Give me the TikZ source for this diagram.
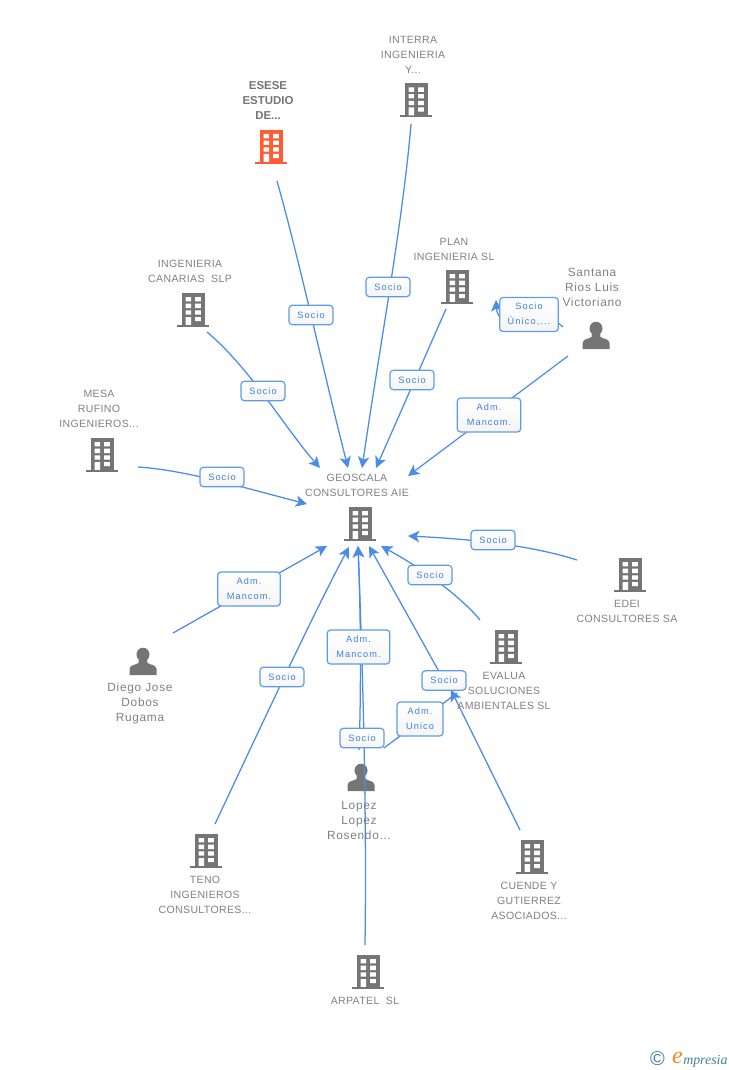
\documentclass[tikz,border=0pt]{standalone}
\usepackage{fontspec}
\usetikzlibrary{arrows.meta,backgrounds}
\setmainfont{Liberation Sans}
\newfontfamily\graylab[LetterSpace=3.5]{Liberation Sans}
\newfontfamily\perslab[LetterSpace=6]{Liberation Sans}
\newfontfamily\boxlab[LetterSpace=12]{Liberation Sans}
\newfontfamily\logoserif{Liberation Serif}
\definecolor{icongray}{HTML}{757575}
\definecolor{txtgray}{HTML}{808080}
\definecolor{hot}{HTML}{FF5C33}
\definecolor{linkblue}{HTML}{4A8CE8}
\definecolor{boxblue}{HTML}{5E9BEA}
\definecolor{boxtxt}{HTML}{3D80E0}
\definecolor{logoteal}{HTML}{3F7F96}
\definecolor{logoor}{HTML}{F08A24}
\tikzset{
  x=0.75pt,y=-0.75pt,
  plainconn/.style={draw=linkblue,line width=0.95pt},
  conn/.style={plainconn,-{Stealth[length=8.5pt,width=8.5pt,inset=2.2pt]}},
  lbl/.style={draw=boxblue,line width=0.9pt,rounded corners=2.5pt,top color=white,bottom color=white!96!black,
    text=boxtxt,font=\boxlab\fontsize{6.9pt}{11.25pt}\selectfont,align=center,inner sep=0pt,anchor=center},
  gt/.style={text=txtgray,font=\graylab\fontsize{7.9pt}{11.25pt}\selectfont,align=center,inner sep=0pt},
  pt/.style={text=txtgray,font=\perslab\fontsize{8.9pt}{11.25pt}\selectfont,align=center,inner sep=0pt},
  iconspot/.style={inner sep=0pt,minimum width=24pt,minimum height=25pt},
  pics/bldg/.style={code={
    \fill[#1] (-11.5,-17) rectangle (11.5,16);
    \fill[#1] (-16,14.8) rectangle (16,17);
    \fill[white] (-7.5,-13) rectangle (-2,-8.7) (2.2,-13) rectangle (7.8,-8.7)
      (-7.5,-6.3) rectangle (-2,-2) (2.2,-6.3) rectangle (7.8,-2)
      (-7.5,0.3) rectangle (-2,4.7) (2.2,0.3) rectangle (7.8,4.7)
      (-7.5,7) rectangle (-2,14.8) (2.2,7) rectangle (7.8,11.2);
  }},
  pics/pers/.style={code={
    \fill[icongray] (0,-7) ellipse [x radius=6.5,y radius=6.8];
    \fill[icongray] (-13.5,13.5) -- (-13.5,7.5) .. controls (-13,3) and (-7,3.5) .. (-4.5,1.5) -- (-4,-3) -- (4,-3) -- (4.5,1.5)
      .. controls (7,3.5) and (13,3) .. (13.5,7.5) -- (13.5,13.5) -- cycle;
  }}
}
\newcommand{\bicon}[4][icongray]{\node[iconspot] (#2) at (#3,#4) {}; \pic at (#3,#4) {bldg=#1};}
\newcommand{\picon}[3]{\node[iconspot] (#1) at (#2,#3) {}; \pic at (#1) {pers};}
\begin{document}
\begin{tikzpicture}
\useasboundingbox (0,0) rectangle (728,1070);

% free ends of the connectors
\coordinate (s1) at (277,181);   \coordinate (t1) at (348,468);
\coordinate (s2) at (411,124);   \coordinate (t2) at (362,468);
\coordinate (s3) at (446,309);   \coordinate (t3) at (376,468);
\coordinate (s4) at (568,356);   \coordinate (t4) at (408,476);
\coordinate (s5) at (563,327);   \coordinate (t5) at (496,300);
\coordinate (s6) at (207,332);   \coordinate (t6) at (320,468);
\coordinate (s7) at (138,467);   \coordinate (t7) at (307,504);
\coordinate (s8) at (577,560);   \coordinate (t8) at (408,536);
\coordinate (s9) at (480,620);   \coordinate (t9) at (381,546);
\coordinate (s10) at (173,633);  \coordinate (t10) at (327,546);
\coordinate (s11) at (215,824);  \coordinate (t11) at (349,547);
\coordinate (s12) at (359,750);  \coordinate (t12) at (358,546);
\coordinate (s13) at (365,945);  \coordinate (t13) at (358,546);
\coordinate (s14) at (520,830);  \coordinate (t14) at (451,690);
\coordinate (t16) at (369,546);
\coordinate (s15) at (384,748);  \coordinate (t15) at (457,693);

% connector labels
\node[lbl,minimum width=33pt,minimum height=14.5pt] (l1) at (311,315) {Socio};
\node[lbl,minimum width=33pt,minimum height=14.5pt] (l2) at (388,287) {Socio};
\node[lbl,minimum width=33pt,minimum height=14.5pt] (l3) at (412,380) {Socio};
\node[lbl,minimum width=47.5pt,minimum height=25.5pt] (l4) at (489,415) {Adm.\\Mancom.};
\node[lbl,minimum width=44pt,minimum height=25.5pt] (l5) at (529,314.5) {Socio\\Único,...};
\node[lbl,minimum width=33pt,minimum height=14.5pt] (l6) at (263,391) {Socio};
\node[lbl,minimum width=33pt,minimum height=14.5pt] (l7) at (222,477) {Socio};
\node[lbl,minimum width=33pt,minimum height=14.5pt] (l8) at (493,540) {Socio};
\node[lbl,minimum width=33pt,minimum height=14.5pt] (l9) at (430,575) {Socio};
\node[lbl,minimum width=47pt,minimum height=25.5pt] (l10) at (249,589) {Adm.\\Mancom.};
\node[lbl,minimum width=33pt,minimum height=14.5pt] (l11) at (282,677) {Socio};
\node[lbl,minimum width=47pt,minimum height=25.5pt] (l12) at (358.5,647) {Adm.\\Mancom.};
\node[lbl,minimum width=33pt,minimum height=14.5pt] (l13) at (362,738) {Socio};
\node[lbl,minimum width=33pt,minimum height=14.5pt] (l14) at (444,680.5) {Socio};
\node[lbl,minimum width=34.5pt,minimum height=25.5pt] (l15) at (420,719) {Adm.\\Unico};

\begin{pgfonlayer}{background}
% icons
\bicon[hot]{esese}{271}{147}
\bicon{interra}{416}{100.5}
\bicon{plan}{457}{287}
\bicon{canarias}{193}{310}
\bicon{mesa}{102}{455}
\bicon{geoscala}{360}{524}
\bicon{edei}{630}{575}
\bicon{evalua}{506}{647}
\bicon{teno}{206}{851}
\bicon{cuende}{532}{857}
\bicon{arpatel}{368}{972}
\picon{santana}{596}{335.5}
\picon{diego}{143}{661.5}
\picon{lopez}{361}{777.5}
% connectors
\draw[conn] (s1) .. controls (298,255) and (322,365) .. (t1);
\draw[conn] (s2) .. controls (403,220) and (380,345) .. (t2);
\draw[conn] (s3) -- (t3);
\draw[conn] (s4) -- (t4);
\draw[conn] (s5) .. controls (540,305) and (498,335) .. (t5);
\draw[conn] (s6) .. controls (250,368) and (285,428) .. (t6);
\draw[conn] (s7) .. controls (185,470) and (245,488) .. (t7);
\draw[conn] (s8) .. controls (530,545) and (470,539) .. (t8);
\draw[conn] (s9) .. controls (462,598) and (425,570) .. (t9);
\draw[conn] (s10) -- (t10);
\draw[conn] (s11) .. controls (250,750) and (310,620) .. (t11);
\draw[conn] (s12) .. controls (361,700) and (361,620) .. (t12);
\draw[conn] (s13) .. controls (367,800) and (362,650) .. (t13);
\draw[conn] (s14) -- (t14);
\draw[conn] (l14.center) -- (t16);
\draw[plainconn] (s15) -- (t15);
\end{pgfonlayer}

% texts
\node[gt] (n2) at (413,55) {INTERRA\\INGENIERIA\\Y...};
\node[gt,text=icongray,font=\fontsize{8.6pt}{11.25pt}\selectfont\bfseries] (n1) at (268,100) {ESESE\\ESTUDIO\\DE...};
\node[gt] (n3) at (454,249) {PLAN\\INGENIERIA SL};
\node[gt] (n4) at (190,271.5) {INGENIERIA\\CANARIAS\ \ SLP};
\node[pt] (n5) at (592,287.5) {Santana\\Rios Luis\\Victoriano};
\node[gt] (n6) at (99,409) {MESA\\RUFINO\\INGENIEROS...};
\node[gt] (n7) at (357,485) {GEOSCALA\\CONSULTORES AIE};
\node[gt] (n8) at (627,611) {EDEI\\CONSULTORES SA};
\node[gt] (n9) at (504,690.5) {EVALUA\\SOLUCIONES\\AMBIENTALES SL};
\node[pt] (n10) at (140,703.5) {Diego Jose\\Dobos\\Rugama};
\node[pt] (n11) at (359,820) {Lopez\\Lopez\\Rosendo...};
\node[gt] (n12) at (205,895) {TENO\\INGENIEROS\\CONSULTORES...};
\node[gt] (n13) at (529,901) {CUENDE Y\\GUTIERREZ\\ASOCIADOS...};
\node[gt] (n14) at (365,1000.5) {ARPATEL\ \ SL};

% logo
\node[inner sep=0pt,text=logoteal,font=\fontsize{15pt}{15pt}\selectfont] (c) at (657.5,1059) {©};
\node[inner sep=0pt,text=logoor,font=\logoserif\itshape\fontsize{18pt}{18pt}\selectfont] (e) at (677.5,1058) {e};
\node[inner sep=0pt,anchor=base west,text=logoteal,font=\logoserif\itshape\fontsize{10.4pt}{10.4pt}\selectfont] (m) at (683,1064) {mpresia};
\end{tikzpicture}
\end{document}
